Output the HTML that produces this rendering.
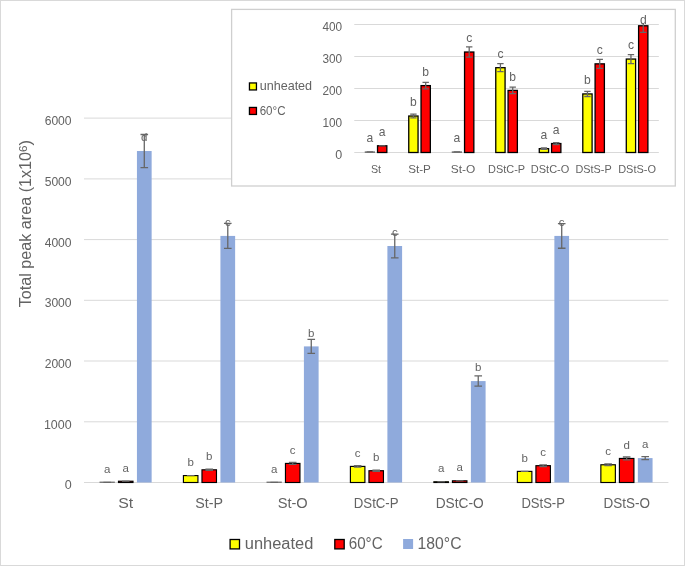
<!DOCTYPE html>
<html><head><meta charset="utf-8"><title>Total peak area chart</title>
<style>html,body{margin:0;padding:0;background:#fff;}svg{display:block;font-family:"Liberation Sans", "DejaVu Sans", sans-serif;fill:#636363;}</style>
</head><body>
<svg width="685" height="566" viewBox="0 0 685 566">
<rect x="0.5" y="0.5" width="684" height="565" fill="#fff" stroke="#d9d9d9" stroke-width="1"/>
<line x1="84.0" y1="482.50" x2="668.4" y2="482.50" stroke="#d9d9d9" stroke-width="1"/>
<line x1="84.0" y1="421.80" x2="668.4" y2="421.80" stroke="#d9d9d9" stroke-width="1"/>
<line x1="84.0" y1="361.00" x2="668.4" y2="361.00" stroke="#d9d9d9" stroke-width="1"/>
<line x1="84.0" y1="300.30" x2="668.4" y2="300.30" stroke="#d9d9d9" stroke-width="1"/>
<line x1="84.0" y1="239.60" x2="668.4" y2="239.60" stroke="#d9d9d9" stroke-width="1"/>
<line x1="84.0" y1="178.90" x2="668.4" y2="178.90" stroke="#d9d9d9" stroke-width="1"/>
<line x1="84.0" y1="118.10" x2="668.4" y2="118.10" stroke="#d9d9d9" stroke-width="1"/>
<text id="mt0" x="71.60" y="489.40" text-anchor="end" font-size="12.5">0</text>
<text id="mt1" x="71.60" y="428.70" text-anchor="end" font-size="12.5" textLength="27.65" lengthAdjust="spacingAndGlyphs">1000</text>
<text id="mt2" x="71.60" y="367.90" text-anchor="end" font-size="12.5" textLength="26.95" lengthAdjust="spacingAndGlyphs">2000</text>
<text id="mt3" x="71.60" y="307.20" text-anchor="end" font-size="12.5" textLength="26.95" lengthAdjust="spacingAndGlyphs">3000</text>
<text id="mt4" x="71.60" y="246.50" text-anchor="end" font-size="12.5" textLength="26.95" lengthAdjust="spacingAndGlyphs">4000</text>
<text id="mt5" x="71.60" y="185.80" text-anchor="end" font-size="12.5" textLength="26.95" lengthAdjust="spacingAndGlyphs">5000</text>
<text id="mt6" x="71.60" y="125.00" text-anchor="end" font-size="12.5" textLength="26.95" lengthAdjust="spacingAndGlyphs">6000</text>
<path d="M99.54 482.20H114.84" stroke="#5a5a5a" stroke-width="1.1"/>
<path d="M103.39 482.38H110.99" stroke="#676767" stroke-width="1.2" fill="none"/>
<text id="ml00" x="107.19" y="472.68" text-anchor="middle" font-size="11.5">a</text>
<rect x="118.49" y="481.22" width="14.5" height="1.28" fill="#ff0000" stroke="#000" stroke-width="1.15"/>
<path d="M121.94 481.22H129.54" stroke="#676767" stroke-width="1.2" fill="none"/>
<text id="ml01" x="125.74" y="471.52" text-anchor="middle" font-size="11.5">a</text>
<rect x="136.94" y="151.02" width="14.7" height="331.48" fill="#8faadc"/>
<path d="M144.29 134.50V167.54M140.49 134.50H148.09M140.49 167.54H148.09" stroke="#676767" stroke-width="1.3" fill="none"/>
<text id="ml02" x="144.29" y="141.32" text-anchor="middle" font-size="11.5">d</text>
<rect x="183.43" y="475.58" width="14.5" height="6.92" fill="#ffff00" stroke="#000" stroke-width="1.15"/>
<path d="M186.88 475.58H194.48" stroke="#676767" stroke-width="1.2" fill="none"/>
<text id="ml10" x="190.68" y="465.88" text-anchor="middle" font-size="11.5">b</text>
<rect x="201.98" y="469.81" width="14.5" height="12.69" fill="#ff0000" stroke="#000" stroke-width="1.15"/>
<path d="M209.23 469.20V470.41M205.43 469.20H213.03M205.43 470.41H213.03" stroke="#676767" stroke-width="1.3" fill="none"/>
<text id="ml11" x="209.23" y="460.11" text-anchor="middle" font-size="11.5">b</text>
<rect x="220.43" y="235.92" width="14.7" height="246.58" fill="#8faadc"/>
<path d="M227.78 223.41V248.44M223.98 223.41H231.58M223.98 248.44H231.58" stroke="#676767" stroke-width="1.3" fill="none"/>
<text id="ml12" x="227.78" y="226.22" text-anchor="middle" font-size="11.5">c</text>
<path d="M266.51 482.20H281.81" stroke="#5a5a5a" stroke-width="1.1"/>
<path d="M270.36 482.38H277.96" stroke="#676767" stroke-width="1.2" fill="none"/>
<text id="ml20" x="274.16" y="472.68" text-anchor="middle" font-size="11.5">a</text>
<rect x="285.46" y="463.43" width="14.5" height="19.07" fill="#ff0000" stroke="#000" stroke-width="1.15"/>
<path d="M292.71 462.46V464.40M288.91 462.46H296.51M288.91 464.40H296.51" stroke="#676767" stroke-width="1.3" fill="none"/>
<text id="ml21" x="292.71" y="453.73" text-anchor="middle" font-size="11.5">c</text>
<rect x="303.91" y="346.40" width="14.7" height="136.10" fill="#8faadc"/>
<path d="M311.26 339.47V353.32M307.46 339.47H315.06M307.46 353.32H315.06" stroke="#676767" stroke-width="1.3" fill="none"/>
<text id="ml22" x="311.26" y="336.70" text-anchor="middle" font-size="11.5">b</text>
<rect x="350.40" y="466.41" width="14.5" height="16.09" fill="#ffff00" stroke="#000" stroke-width="1.15"/>
<path d="M357.65 465.65V467.16M353.85 465.65H361.45M353.85 467.16H361.45" stroke="#676767" stroke-width="1.3" fill="none"/>
<text id="ml30" x="357.65" y="456.71" text-anchor="middle" font-size="11.5">c</text>
<rect x="368.95" y="470.72" width="14.5" height="11.78" fill="#ff0000" stroke="#000" stroke-width="1.15"/>
<path d="M376.20 470.11V471.33M372.40 470.11H380.00M372.40 471.33H380.00" stroke="#676767" stroke-width="1.3" fill="none"/>
<text id="ml31" x="376.20" y="461.02" text-anchor="middle" font-size="11.5">b</text>
<rect x="387.40" y="246.01" width="14.7" height="236.49" fill="#8faadc"/>
<path d="M394.75 234.10V257.91M390.95 234.10H398.55M390.95 257.91H398.55" stroke="#676767" stroke-width="1.3" fill="none"/>
<text id="ml32" x="394.75" y="236.31" text-anchor="middle" font-size="11.5">c</text>
<rect x="433.89" y="481.77" width="14.5" height="0.73" fill="#ffff00" stroke="#000" stroke-width="1.15"/>
<path d="M437.34 481.77H444.94" stroke="#676767" stroke-width="1.2" fill="none"/>
<text id="ml40" x="441.14" y="472.07" text-anchor="middle" font-size="11.5">a</text>
<rect x="452.44" y="480.80" width="14.5" height="1.70" fill="#ff0000" stroke="#000" stroke-width="1.15"/>
<path d="M455.89 480.80H463.49" stroke="#676767" stroke-width="1.2" fill="none"/>
<text id="ml41" x="459.69" y="471.10" text-anchor="middle" font-size="11.5">a</text>
<rect x="470.89" y="381.08" width="14.7" height="101.42" fill="#8faadc"/>
<path d="M478.24 375.97V386.18M474.44 375.97H482.04M474.44 386.18H482.04" stroke="#676767" stroke-width="1.3" fill="none"/>
<text id="ml42" x="478.24" y="371.38" text-anchor="middle" font-size="11.5">b</text>
<rect x="517.37" y="471.39" width="14.5" height="11.11" fill="#ffff00" stroke="#000" stroke-width="1.15"/>
<path d="M520.82 471.39H528.42" stroke="#676767" stroke-width="1.2" fill="none"/>
<text id="ml50" x="524.62" y="461.69" text-anchor="middle" font-size="11.5">b</text>
<rect x="535.92" y="465.68" width="14.5" height="16.82" fill="#ff0000" stroke="#000" stroke-width="1.15"/>
<path d="M543.17 464.83V466.53M539.37 464.83H546.97M539.37 466.53H546.97" stroke="#676767" stroke-width="1.3" fill="none"/>
<text id="ml51" x="543.17" y="455.98" text-anchor="middle" font-size="11.5">c</text>
<rect x="554.37" y="235.92" width="14.7" height="246.58" fill="#8faadc"/>
<path d="M561.72 223.60V248.25M557.92 223.60H565.52M557.92 248.25H565.52" stroke="#676767" stroke-width="1.3" fill="none"/>
<text id="ml52" x="561.72" y="226.22" text-anchor="middle" font-size="11.5">c</text>
<rect x="600.86" y="464.77" width="14.5" height="17.73" fill="#ffff00" stroke="#000" stroke-width="1.15"/>
<path d="M608.11 463.92V465.62M604.31 463.92H611.91M604.31 465.62H611.91" stroke="#676767" stroke-width="1.3" fill="none"/>
<text id="ml60" x="608.11" y="455.07" text-anchor="middle" font-size="11.5">c</text>
<rect x="619.41" y="458.45" width="14.5" height="24.05" fill="#ff0000" stroke="#000" stroke-width="1.15"/>
<path d="M626.66 456.99V459.91M622.86 456.99H630.46M622.86 459.91H630.46" stroke="#676767" stroke-width="1.3" fill="none"/>
<text id="ml61" x="626.66" y="448.75" text-anchor="middle" font-size="11.5">d</text>
<rect x="637.86" y="458.09" width="14.7" height="24.41" fill="#8faadc"/>
<path d="M645.21 456.57V459.60M641.41 456.57H649.01M641.41 459.60H649.01" stroke="#676767" stroke-width="1.3" fill="none"/>
<text id="ml62" x="645.21" y="448.39" text-anchor="middle" font-size="11.5">a</text>
<text id="mc0" x="125.74" y="508.30" text-anchor="middle" font-size="14.4" textLength="15.01" lengthAdjust="spacingAndGlyphs">St</text>
<text id="mc1" x="209.23" y="508.30" text-anchor="middle" font-size="14.4" textLength="27.78" lengthAdjust="spacingAndGlyphs">St-P</text>
<text id="mc2" x="292.71" y="508.30" text-anchor="middle" font-size="14.4" textLength="30.12" lengthAdjust="spacingAndGlyphs">St-O</text>
<text id="mc3" x="376.20" y="508.30" text-anchor="middle" font-size="14.4" textLength="44.81" lengthAdjust="spacingAndGlyphs">DStC-P</text>
<text id="mc4" x="459.69" y="508.30" text-anchor="middle" font-size="14.4" textLength="48.06" lengthAdjust="spacingAndGlyphs">DStC-O</text>
<text id="mc5" x="543.17" y="508.30" text-anchor="middle" font-size="14.4" textLength="43.57" lengthAdjust="spacingAndGlyphs">DStS-P</text>
<text id="mc6" x="626.66" y="508.30" text-anchor="middle" font-size="14.4" textLength="46.46" lengthAdjust="spacingAndGlyphs">DStS-O</text>
<text id="title" x="0.00" y="0.00" text-anchor="middle" font-size="16" textLength="167.11" lengthAdjust="spacingAndGlyphs" transform="translate(31.2 223.7) rotate(-90)">Total peak area (1x10<tspan font-size="11.5" dy="-4.4">6</tspan><tspan dy="4.4">)</tspan></text>
<rect x="230.10" y="539.50" width="9.4" height="9.4" fill="#ffff00" stroke="#000" stroke-width="1.3"/>
<text id="lg0" x="244.80" y="548.60" font-size="15.6" textLength="68.58" lengthAdjust="spacingAndGlyphs">unheated</text>
<rect x="334.80" y="539.50" width="9.4" height="9.4" fill="#ff0000" stroke="#000" stroke-width="1.3"/>
<text id="lg1" x="348.70" y="548.60" font-size="15.6" textLength="33.99" lengthAdjust="spacingAndGlyphs">60°C</text>
<rect x="403.10" y="539.00" width="10" height="10" fill="#8faadc"/>
<text id="lg2" x="417.60" y="548.60" font-size="15.6" textLength="43.95" lengthAdjust="spacingAndGlyphs">180°C</text>
<rect x="231.6" y="9.4" width="443.7" height="176.6" fill="#fff" stroke="#cfcfcf" stroke-width="1.3"/>
<line x1="354.28" y1="152.50" x2="658.85" y2="152.50" stroke="#d9d9d9" stroke-width="1"/>
<text id="it0" x="342.10" y="159.10" text-anchor="end" font-size="12.5">0</text>
<line x1="354.28" y1="120.50" x2="658.85" y2="120.50" stroke="#d9d9d9" stroke-width="1"/>
<text id="it1" x="342.10" y="127.10" text-anchor="end" font-size="12.5" textLength="19.70" lengthAdjust="spacingAndGlyphs">100</text>
<line x1="354.28" y1="88.50" x2="658.85" y2="88.50" stroke="#d9d9d9" stroke-width="1"/>
<text id="it2" x="342.10" y="95.10" text-anchor="end" font-size="12.5" textLength="19.70" lengthAdjust="spacingAndGlyphs">200</text>
<line x1="354.28" y1="56.50" x2="658.85" y2="56.50" stroke="#d9d9d9" stroke-width="1"/>
<text id="it3" x="342.10" y="63.10" text-anchor="end" font-size="12.5" textLength="19.70" lengthAdjust="spacingAndGlyphs">300</text>
<line x1="354.28" y1="24.50" x2="658.85" y2="24.50" stroke="#d9d9d9" stroke-width="1"/>
<text id="it4" x="342.10" y="31.10" text-anchor="end" font-size="12.5" textLength="19.70" lengthAdjust="spacingAndGlyphs">400</text>
<path d="M364.74 152.10H375.03" stroke="#5a5a5a" stroke-width="1.3"/>
<path d="M366.69 151.86H373.08" stroke="#676767" stroke-width="1.2" fill="none"/>
<text id="dl00" x="369.88" y="141.96" text-anchor="middle" font-size="12.1">a</text>
<rect x="377.53" y="145.78" width="9.3" height="6.72" fill="#ff0000" stroke="#000" stroke-width="1.3"/>
<path d="M378.98 145.78H385.38" stroke="#676767" stroke-width="1.2" fill="none"/>
<text id="dl01" x="382.18" y="135.88" text-anchor="middle" font-size="12.1">a</text>
<text id="ic0" x="376.03" y="173.40" text-anchor="middle" font-size="11.8" textLength="10.12" lengthAdjust="spacingAndGlyphs">St</text>
<rect x="408.75" y="116.02" width="9.3" height="36.48" fill="#ffff00" stroke="#000" stroke-width="1.3"/>
<path d="M413.39 114.10V117.94M410.19 114.10H416.59M410.19 117.94H416.59" stroke="#676767" stroke-width="1.3" fill="none"/>
<text id="dl10" x="413.39" y="106.12" text-anchor="middle" font-size="12.1">b</text>
<rect x="421.04" y="85.62" width="9.3" height="66.88" fill="#ff0000" stroke="#000" stroke-width="1.3"/>
<path d="M425.69 82.42V88.82M422.49 82.42H428.89M422.49 88.82H428.89" stroke="#676767" stroke-width="1.3" fill="none"/>
<text id="dl11" x="425.69" y="75.72" text-anchor="middle" font-size="12.1">b</text>
<text id="ic1" x="419.54" y="173.40" text-anchor="middle" font-size="11.8" textLength="22.73" lengthAdjust="spacingAndGlyphs">St-P</text>
<path d="M451.75 152.10H462.05" stroke="#5a5a5a" stroke-width="1.3"/>
<path d="M453.70 151.86H460.10" stroke="#676767" stroke-width="1.2" fill="none"/>
<text id="dl20" x="456.90" y="141.96" text-anchor="middle" font-size="12.1">a</text>
<rect x="464.55" y="52.02" width="9.3" height="100.48" fill="#ff0000" stroke="#000" stroke-width="1.3"/>
<path d="M469.20 46.90V57.14M466.00 46.90H472.40M466.00 57.14H472.40" stroke="#676767" stroke-width="1.3" fill="none"/>
<text id="dl21" x="469.20" y="42.12" text-anchor="middle" font-size="12.1">c</text>
<text id="ic2" x="463.05" y="173.40" text-anchor="middle" font-size="11.8" textLength="24.48" lengthAdjust="spacingAndGlyphs">St-O</text>
<rect x="495.77" y="67.70" width="9.3" height="84.80" fill="#ffff00" stroke="#000" stroke-width="1.3"/>
<path d="M500.42 63.70V71.70M497.22 63.70H503.62M497.22 71.70H503.62" stroke="#676767" stroke-width="1.3" fill="none"/>
<text id="dl30" x="500.42" y="57.80" text-anchor="middle" font-size="12.1">c</text>
<rect x="508.07" y="90.42" width="9.3" height="62.08" fill="#ff0000" stroke="#000" stroke-width="1.3"/>
<path d="M512.72 87.22V93.62M509.52 87.22H515.92M509.52 93.62H515.92" stroke="#676767" stroke-width="1.3" fill="none"/>
<text id="dl31" x="512.72" y="80.52" text-anchor="middle" font-size="12.1">b</text>
<text id="ic3" x="506.56" y="173.40" text-anchor="middle" font-size="11.8" textLength="37.01" lengthAdjust="spacingAndGlyphs">DStC-P</text>
<rect x="539.28" y="148.66" width="9.3" height="3.84" fill="#ffff00" stroke="#000" stroke-width="1.3"/>
<path d="M543.93 148.02V149.30M540.73 148.02H547.13M540.73 149.30H547.13" stroke="#676767" stroke-width="1.3" fill="none"/>
<text id="dl40" x="543.93" y="138.76" text-anchor="middle" font-size="12.1">a</text>
<rect x="551.58" y="143.54" width="9.3" height="8.96" fill="#ff0000" stroke="#000" stroke-width="1.3"/>
<path d="M556.23 142.58V144.50M553.02 142.58H559.43M553.02 144.50H559.43" stroke="#676767" stroke-width="1.3" fill="none"/>
<text id="dl41" x="556.23" y="133.64" text-anchor="middle" font-size="12.1">a</text>
<text id="ic4" x="550.08" y="173.40" text-anchor="middle" font-size="11.8" textLength="38.49" lengthAdjust="spacingAndGlyphs">DStC-O</text>
<rect x="582.79" y="93.94" width="9.3" height="58.56" fill="#ffff00" stroke="#000" stroke-width="1.3"/>
<path d="M587.44 91.38V96.50M584.24 91.38H590.64M584.24 96.50H590.64" stroke="#676767" stroke-width="1.3" fill="none"/>
<text id="dl50" x="587.44" y="84.04" text-anchor="middle" font-size="12.1">b</text>
<rect x="595.09" y="63.86" width="9.3" height="88.64" fill="#ff0000" stroke="#000" stroke-width="1.3"/>
<path d="M599.74 59.38V68.34M596.53 59.38H602.94M596.53 68.34H602.94" stroke="#676767" stroke-width="1.3" fill="none"/>
<text id="dl51" x="599.74" y="53.96" text-anchor="middle" font-size="12.1">c</text>
<text id="ic5" x="593.59" y="173.40" text-anchor="middle" font-size="11.8" textLength="36.21" lengthAdjust="spacingAndGlyphs">DStS-P</text>
<rect x="626.30" y="59.06" width="9.3" height="93.44" fill="#ffff00" stroke="#000" stroke-width="1.3"/>
<path d="M630.95 54.58V63.54M627.75 54.58H634.15M627.75 63.54H634.15" stroke="#676767" stroke-width="1.3" fill="none"/>
<text id="dl60" x="630.95" y="49.16" text-anchor="middle" font-size="12.1">c</text>
<rect x="638.60" y="25.78" width="9.3" height="126.72" fill="#ff0000" stroke="#000" stroke-width="1.3"/>
<path d="M643.25 23.2V32.38M640.04 32.38H646.45" stroke="#676767" stroke-width="1.3" fill="none"/>
<text id="dl61" x="643.25" y="24.20" text-anchor="middle" font-size="12.1">d</text>
<text id="ic6" x="637.10" y="173.40" text-anchor="middle" font-size="11.8" textLength="37.80" lengthAdjust="spacingAndGlyphs">DStS-O</text>
<rect x="249.45" y="82.95" width="7" height="7" fill="#ffff00" stroke="#000" stroke-width="1.3"/>
<text id="il0" x="259.70" y="89.80" font-size="12.4" textLength="52.42" lengthAdjust="spacingAndGlyphs">unheated</text>
<rect x="249.45" y="107.45" width="7" height="7" fill="#ff0000" stroke="#000" stroke-width="1.3"/>
<text id="il1" x="259.70" y="114.70" font-size="12.4" textLength="25.86" lengthAdjust="spacingAndGlyphs">60°C</text>
</svg>
</body></html>
